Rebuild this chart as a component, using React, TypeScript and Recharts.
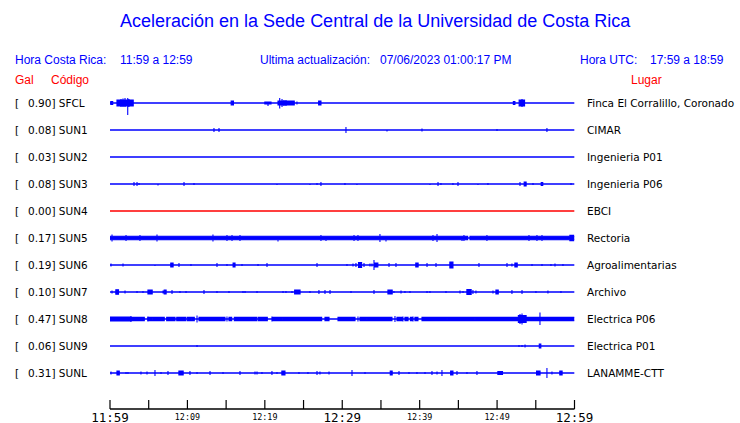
import React from "react";
import { ComposedChart, Area, XAxis, YAxis } from "recharts";

// stations, top to bottom
const STATIONS = ["SFCL", "SUN1", "SUN2", "SUN3", "SUN4", "SUN5", "SUN6", "SUN7", "SUN8", "SUN9", "SUNL"];
const PEAK_GAL = ["0.90", "0.08", "0.03", "0.08", "0.00", "0.17", "0.19", "0.10", "0.47", "0.06", "0.31"];
const PLACES = [
  "Finca El Corralillo, Coronado",
  "CIMAR",
  "Ingenieria P01",
  "Ingenieria P06",
  "EBCI",
  "Rectoria",
  "Agroalimentarias",
  "Archivo",
  "Electrica P06",
  "Electrica P01",
  "LANAMME-CTT",
];

// minutes after 11:59
const TICKS = [0, 5, 10, 15, 20, 25, 30, 35, 40, 45, 50, 55, 60];
const TICK_LABELS: Record<number, string> = { 0: "11:59", 10: "12:09", 20: "12:19", 30: "12:29", 40: "12:39", 50: "12:49", 60: "12:59" };
const BIG_LABELS = [0, 30, 60];

// spikes: [minute, up, down]   bursts: [from, to, amplitude]   quiet: [from, to]
const SFCL_SPIKES = [[1.16, 3.5, 3.5], [1.42, 4, 4], [1.68, 4.5, 4], [1.94, 5, 4], [2.29, 5, 12], [2.45, 4, 4], [2.71, 3, 3], [20.41, 0, 3], [21.92, 5, 5.5], [22.22, 4, 4], [22.47, 3, 3], [22.73, 3, 3], [24.15, 1.5, 1.5], [53.22, 4, 4]];
const SFCL_BURSTS = [[0.1, 0.35, 1.5], [0.9, 3.0, 3], [15.65, 15.95, 2], [20.0, 20.8, 1], [21.7, 23.8, 2], [26.95, 27.25, 2], [52.1, 52.3, 1.5], [52.85, 53.55, 3]];

const SUN1_SPIKES = [[13.43, 2, 2], [14.08, 2, 2], [30.48, 3, 3], [35.78, 0, 1.5], [40.3, 1.5, 1.5], [49.99, 1, 1], [56.44, 2, 2]];

const SUN3_SPIKES = [[3.1, 2, 2], [3.49, 2, 2], [3.75, 1, 1], [6.2, 0, 1.5], [9.56, 2, 2], [10.85, 1, 1], [21.57, 0, 1], [25.83, 0, 1], [26.74, 1, 1], [27.25, 2, 2], [30.35, 1, 1], [31.9, 0, 1], [41.33, 0, 1], [42.37, 2, 2], [42.75, 1, 1], [44.3, 1, 1], [44.95, 2, 2], [47.53, 0, 1], [48.82, 1, 1], [52.96, 2, 2], [54.64, 1, 1], [59.55, 1, 1]];
const SUN3_BURSTS = [[53.5, 53.75, 2], [55.7, 55.9, 1.5]];

const SUN5_SPIKES = [[0.26, 3.5, 3.5], [2.07, 3, 3], [3.87, 3, 3], [6.07, 3.5, 3.5], [13.3, 3.5, 3.5], [15.11, 3, 3], [15.76, 3, 3], [16.79, 3, 3], [21.7, 0, 3.5], [27.25, 3, 3], [27.9, 0, 3], [31.52, 3, 3], [32.03, 3, 3], [34.87, 4, 4], [35.65, 0, 3.5], [41.72, 3, 3], [42.24, 4, 4], [45.47, 0, 3], [45.72, 3, 3], [48.69, 3, 3], [54.12, 3, 3], [55.15, 3, 3], [55.8, 3, 3]];
const SUN5_BURSTS = [[59.4, 59.9, 2.6]];
const SUN5_QUIET = [[46.2, 46.5]];

const SUN6_SPIKES = [[0.13, 1.5, 1.5], [1.68, 1.5, 1.5], [5.81, 0, 1], [8.91, 2, 2], [10.46, 1, 1], [13.82, 2, 2], [15.11, 1, 1], [17.05, 1, 1], [19.12, 1, 1], [20.28, 2, 2], [26.74, 2, 2], [30.61, 1, 1], [31.39, 1.5, 1.5], [31.77, 2, 2], [32.81, 2, 2], [33.58, 1.5, 1.5], [33.84, 1.5, 1.5], [34.1, 5, 5], [36.04, 2, 2], [36.94, 2, 2], [40.95, 2, 2], [42.11, 2, 2], [47.66, 2, 2], [51.28, 2, 2], [51.92, 1.5, 1.5], [54.51, 1, 1], [55.8, 1, 1], [56.96, 1, 1], [57.48, 1.5, 1.5], [58.51, 1, 1]];
const SUN6_BURSTS = [[7.85, 8.15, 2], [15.9, 16.15, 2], [32.1, 32.5, 2.5], [34.2, 34.6, 2], [39.5, 39.8, 2], [43.9, 44.3, 3], [52.3, 52.6, 2]];

const SUN7_SPIKES = [[0.26, 1.5, 1.5], [1.94, 1.5, 1.5], [3.49, 1, 1], [4.26, 1, 1], [6.85, 1.5, 1.5], [8.01, 2, 2], [9.04, 1, 1], [9.82, 1, 1], [12.14, 2, 2], [13.82, 1, 1], [15.37, 1, 1], [17.18, 1, 1], [17.44, 1, 1], [18.99, 1, 1], [22.35, 1, 1], [22.73, 1, 1], [23.51, 1, 1], [25.83, 1, 1], [26.99, 2, 2], [27.77, 2, 2], [28.42, 2, 2], [31.13, 1, 1], [34.1, 2, 2], [36.68, 1, 1], [37.59, 1.5, 1.5], [38.1, 1, 1], [38.75, 1, 1], [40.95, 1, 1], [41.33, 1, 1], [43.4, 1, 1], [45.21, 1.5, 1.5], [45.6, 1, 1], [46.88, 2, 2], [47.27, 1.5, 1.5], [49.47, 1.5, 1.5], [51.92, 2, 2], [53.22, 2, 2], [55.02, 1, 1], [56.57, 1.5, 1.5], [58.25, 1, 1]];
const SUN7_BURSTS = [[0.75, 1.1, 2.2], [4.9, 5.45, 2], [7.0, 7.25, 2], [23.85, 24.55, 2], [35.9, 36.45, 2], [46.1, 46.65, 2.5], [49.85, 50.15, 2]];

const SUN8_SPIKES = [[2.71, 3, 3], [4.91, 2.5, 2.5], [11.24, 3.5, 3.5], [15.11, 2.5, 2.5], [20.92, 2.5, 2.5], [32.03, 2.5, 2.5], [36.81, 3, 3], [37.84, 2.5, 2.5], [39.14, 2.5, 2.5], [52.96, 5, 5], [53.22, 5.5, 5.5], [53.47, 4, 4], [55.54, 6.5, 6]];
const SUN8_BURSTS = [[0, 2.6, 2.0], [52.75, 53.75, 3.5]];
const SUN8_QUIET = [[1.38, 1.59], [2.58, 2.8], [4.43, 4.87], [5.35, 5.45], [7.01, 7.32], [8.4, 8.62], [9.78, 9.98], [10.58, 10.68], [10.89, 11.5], [14.85, 15.37], [15.72, 16.06], [18.95, 19.15], [20.32, 21.05], [22.13, 22.23], [27.34, 27.77], [28.29, 29.45], [31.65, 32.29], [33.15, 33.25], [36.42, 37.07], [37.84, 38.1], [38.5, 38.8], [39.1, 39.39], [39.78, 40.3], [43.48, 43.58], [47.1, 47.2]];

const SUN9_SPIKES = [[11.24, 1, 1], [52.83, 1, 1], [53.22, 1, 1], [53.61, 1.5, 1.5]];
const SUN9_BURSTS = [[55.45, 55.65, 2]];

const SUNL_SPIKES = [[0.13, 1.5, 1.5], [2.07, 1, 1], [2.32, 1, 1], [4.0, 1.5, 1.5], [4.78, 1.5, 1.5], [5.81, 3, 3], [6.59, 1, 1], [7.49, 2, 2], [10.33, 2, 2], [11.24, 1, 1], [12.92, 2, 2], [14.6, 1, 1], [16.79, 2, 2], [18.73, 1.5, 1.5], [18.99, 1.5, 1.5], [19.63, 1, 1], [20.92, 2, 2], [21.57, 1, 1], [24.41, 1, 1], [25.57, 1, 1], [26.74, 2, 2], [27.12, 1.5, 1.5], [28.29, 1.5, 1.5], [31.26, 3, 3], [32.94, 1, 1], [37.33, 2, 2], [38.62, 1, 1], [39.65, 1, 1], [40.69, 1, 1], [41.59, 2, 2], [42.24, 1.5, 1.5], [42.88, 3, 3], [44.82, 2, 2], [46.11, 1, 1], [47.4, 2, 2], [56.44, 5, 5], [57.09, 1.5, 1.5]];
const SUNL_BURSTS = [[0.9, 1.2, 2], [8.9, 9.45, 2], [22.2, 22.6, 2], [36.2, 36.45, 2], [44.0, 44.3, 2], [50.1, 50.7, 1.5], [55.1, 55.55, 2], [58.1, 58.4, 2]];

const NOISE = [0, 0, 0, 0, 0, 1.8, 0, 0, 1.6, 0, 0];
const SPIKES = [SFCL_SPIKES, SUN1_SPIKES, [], SUN3_SPIKES, [], SUN5_SPIKES, SUN6_SPIKES, SUN7_SPIKES, SUN8_SPIKES, SUN9_SPIKES, SUNL_SPIKES];
const BURSTS = [SFCL_BURSTS, [], [], SUN3_BURSTS, [], SUN5_BURSTS, SUN6_BURSTS, SUN7_BURSTS, SUN8_BURSTS, SUN9_BURSTS, SUNL_BURSTS];
const QUIET = [[], [], [], [], [], SUN5_QUIET, [], [], SUN8_QUIET, [], []];

const BLUE = "#0000ff";
const RED = "#ff0000";

function envelope(t: number, noise: number, bursts: number[][], quiet: number[][]) {
  let a = noise > 0 && !quiet.some(([q0, q1]) => t > q0 && t < q1) ? noise : 0;
  bursts.forEach(([b0, b1, amp]) => {
    if (t > b0 && t < b1) a = Math.max(a, amp);
  });
  return a;
}

function buildTrace(i: number) {
  const base = 306 - 27 * i;
  const noise = NOISE[i];
  const spikes = SPIKES[i];
  const bursts = BURSTS[i];
  const quiet = QUIET[i];
  const cuts = new Set<number>([0, 60]);
  bursts.forEach((b) => { cuts.add(b[0]); cuts.add(b[1]); });
  quiet.forEach((q) => { cuts.add(q[0]); cuts.add(q[1]); });
  spikes.forEach((s) => cuts.add(s[0]));
  const ts = [...cuts].filter((t) => t >= 0 && t <= 60).sort((a, b) => a - b);
  const d = 1e-4;
  const pts: { t: number; v: number[] }[] = [];
  ts.forEach((t) => {
    const left = envelope(t > 0 ? t - d : t + d, noise, bursts, quiet);
    const right = envelope(t < 60 ? t + d : t - d, noise, bursts, quiet);
    pts.push({ t, v: [base - left, base + left] });
    const s = spikes.find((sp) => sp[0] === t);
    if (s) {
      const m = Math.max(left, right);
      pts.push({ t, v: [base - Math.max(s[2], m), base + Math.max(s[1], m)] });
    }
    pts.push({ t, v: [base - right, base + right] });
  });
  return pts;
}

const TimeTick = (props: any) => {
  const { x, y, payload } = props;
  const label = TICK_LABELS[payload.value];
  const big = BIG_LABELS.includes(payload.value);
  return (
    <g>
      <line x1={x} x2={x} y1={y - 9} y2={y} stroke="#000" strokeWidth={1.2} />
      {label && (
        <text
          x={x}
          y={y + (big ? 12.5 : 10.5)}
          textAnchor="middle"
          fill="#000"
          style={{ fontFamily: "DejaVu Sans Mono", fontSize: big ? 12.5 : 8.4 }}
        >
          {label}
        </text>
      )}
    </g>
  );
};

const txt = (left: number, top: number, color: string, size: number, family: string): React.CSSProperties => ({
  position: "absolute",
  left,
  top,
  color,
  fontSize: size,
  lineHeight: `${size + 2}px`,
  fontFamily: family,
  whiteSpace: "pre",
});

const SANS = "'Liberation Sans', Arial, sans-serif";
const DEJAVU = "'DejaVu Sans', sans-serif";

export default function App() {
  return (
    <div style={{ position: "absolute", left: 0, top: 0, width: 740, height: 423, background: "#fff", overflow: "hidden" }}>
      <div style={txt(120, 11, BLUE, 18, SANS)}>Aceleración en la Sede Central de la Universidad de Costa Rica</div>
      <div style={txt(15, 53, BLUE, 12, SANS)}>Hora Costa Rica:</div>
      <div style={txt(120, 53, BLUE, 12, SANS)}>11:59 a 12:59</div>
      <div style={txt(260, 53, BLUE, 12, SANS)}>Ultima actualización:</div>
      <div style={txt(380, 53, BLUE, 12, SANS)}>07/06/2023 01:00:17 PM</div>
      <div style={txt(580, 53, BLUE, 12, SANS)}>Hora UTC:</div>
      <div style={txt(650, 53, BLUE, 12, SANS)}>17:59 a 18:59</div>
      <div style={txt(15, 73, RED, 12, SANS)}>Gal</div>
      <div style={txt(51, 73, RED, 12, SANS)}>Código</div>
      <div style={txt(631, 73, RED, 12, SANS)}>Lugar</div>

      {STATIONS.map((s, i) => (
        <React.Fragment key={s}>
          <div style={txt(15, 103 + 27 * i - 6, "#000", 10.5, DEJAVU)}>[</div>
          <div style={txt(28, 103 + 27 * i - 6, "#000", 10.5, DEJAVU)}>{`${PEAK_GAL[i]}] ${s}`}</div>
          <div style={txt(587, 103 + 27 * i - 6, "#000", 10.5, DEJAVU)}>{PLACES[i]}</div>
        </React.Fragment>
      ))}

      <div style={{ position: "absolute", left: 0, top: 0 }}>
        <ComposedChart width={740} height={423} margin={{ top: 85, right: 165.5, bottom: 0, left: 110 }}>
          <XAxis
            dataKey="t"
            type="number"
            domain={[0, 60]}
            ticks={TICKS}
            interval={0}
            allowDataOverflow
            height={14}
            tickSize={0}
            tickMargin={0}
            tickLine={false}
            axisLine={{ stroke: "#000", strokeWidth: 1.5 }}
            tick={<TimeTick />}
          />
          <YAxis type="number" domain={[0, 324]} hide allowDataOverflow />
          {STATIONS.map((s, i) => (
            <Area
              key={s}
              data={buildTrace(i)}
              dataKey="v"
              type="linear"
              stroke={s === "SUN4" ? RED : BLUE}
              strokeWidth={1.1}
              fill={s === "SUN4" ? RED : BLUE}
              fillOpacity={1}
              dot={false}
              activeDot={false}
              isAnimationActive={false}
            />
          ))}
        </ComposedChart>
      </div>
    </div>
  );
}
